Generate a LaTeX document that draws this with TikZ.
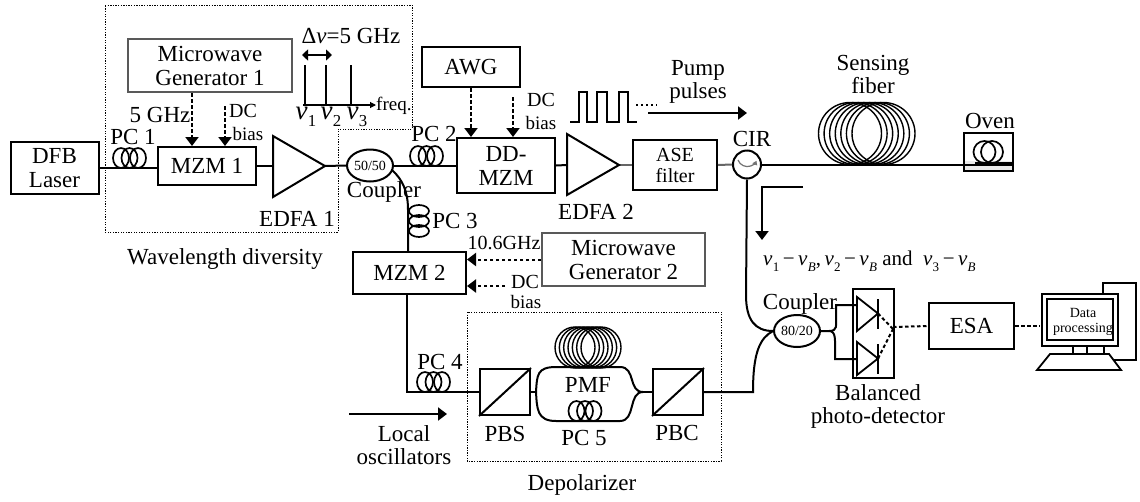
\documentclass[tikz,border=0pt]{standalone}
\usepackage{fontspec}
\setmainfont{Liberation Serif}
\usetikzlibrary{arrows.meta,shapes.geometric}
\newcommand{\vb}[1]{\textit{v}\kern.3pt\raisebox{-.28em}{\scalebox{.62}{#1}}}
\newcommand{\myfs}[2]{\fontsize{#1}{#2}\selectfont}
\newcommand{\pchoriz}[2]{% three upright loops, centre x, centre y
  \foreach \d in {-8.5,0,8.5}{\draw[coil] (#1+\d,#2) ellipse [x radius=8,y radius=10];}}
\newcommand{\pcvert}[2]{%
  \foreach \d in {-10,0,10}{\draw[coil] (#1,#2+\d) ellipse [x radius=10,y radius=6];}}
\newcommand{\spool}[5]{% left centre, right centre, y, rx, ry
  \foreach \i in {0,...,6}{\draw[spoolline] ({#1+(#2-#1)*\i/6},#3) ellipse [x radius=#4,y radius=#5];}}
\tikzset{
  wire/.style={line width=2pt},
  coil/.style={line width=1.7pt},
  spoolline/.style={line width=1.4pt},
  box/.style={draw,line width=2pt,fill=white,inner sep=0pt,align=center,font=\myfs{23}{24}},
  gbox/.style={box,draw=black!65},
  lab/.style={inner sep=0pt,align=center,font=\myfs{23}{23}},
  smalllab/.style={inner sep=0pt,align=center,font=\myfs{19}{21}},
  cplr/.style={draw,ellipse,line width=2pt,fill=white,inner sep=0pt,font=\myfs{14}{15},minimum width=46pt,minimum height=32pt},
  dashar/.style={line width=2pt,dash pattern=on 3.5pt off 2.5pt,-{Triangle[width=13pt,length=9pt]}},
  dashln/.style={line width=2pt,dash pattern=on 3.5pt off 2.5pt},
  solidar/.style={line width=2pt,-{Triangle[width=13pt,length=9pt]}},
  dotbox/.style={line width=.9pt,dash pattern=on 1.3pt off 1.3pt},
  amp/.style={line width=2pt,fill=white,line join=miter}
}
\begin{document}
\begin{tikzpicture}[x=1pt,y=-1pt]
\useasboundingbox (0,0) rectangle (1140,501);
% dotted regions
\draw[dotbox] (105,5) -- (412,5) -- (412,129) -- (338,129) -- (338,232) -- (105,232) -- cycle;
\draw[dotbox] (467,312) rectangle (721,461);
% boxes
\node[box,minimum width=88pt,minimum height=52pt] (dfb) at (54.5,168) {DFB\\Laser};
\node[box,minimum width=98pt,minimum height=38pt] (mzmA) at (207,166) {MZM 1};
\node[gbox,minimum width=164pt,minimum height=53pt] (mwA) at (210,65.5) {Microwave\\Generator 1};
\node[cplr] (cplA) at (370,165.5) {50/50};
\node[box,minimum width=98pt,minimum height=40pt] (awg) at (471,67) {AWG};
\node[box,minimum width=98pt,minimum height=55pt] (dd) at (506,165.5) {DD-\\MZM};
\node[box,minimum width=84pt,minimum height=50pt,font=\myfs{20}{21}] (ase) at (675,165) {ASE\\filter};
\node[draw,circle,line width=2pt,fill=white,minimum size=28pt,inner sep=0pt] (cir) at (747,164.5) {};
\node[box,minimum width=49pt,minimum height=38pt,path picture={\fill[black!8] (path picture bounding box.south west) rectangle ++(49,-10);}] (oven) at (988.5,152) {};
\node[gbox,minimum width=163pt,minimum height=53pt] (mwB) at (623.5,259.5) {Microwave\\Generator 2};
\node[box,minimum width=113pt,minimum height=42pt] (mzmB) at (409.5,273) {MZM 2};
\node[box,minimum width=50pt,minimum height=46pt] (pbs) at (505,392) {};
\node[box,minimum width=50pt,minimum height=46pt] (pbc) at (678,392) {};
\node[cplr] (cplB) at (797,331) {80/20};
\node[box,minimum width=41pt,minimum height=89pt] (bpd) at (873.5,333.5) {};
\node[box,minimum width=85pt,minimum height=46pt] (esa) at (971.5,326) {ESA};
% amplifiers
\coordinate (ampAin) at (273,166); \coordinate (ampAout) at (325,166);
\coordinate (ampBin) at (567,165); \coordinate (ampBout) at (619,165);
% free ends and bends
\coordinate (dcA) at (225,106);
\coordinate (dcAwg) at (513,97);
\coordinate (dcB) at (505,286);
\coordinate (lA) at (349,414); \coordinate (lB) at (447,414);
\coordinate (pA) at (648,113); \coordinate (pB) at (747,113);
\coordinate (rA) at (803,187); \coordinate (rB) at (762,187); \coordinate (rC) at (762,240);
\coordinate (splitL) at (536,392); \coordinate (splitR) at (643,392);
\coordinate (pcB) at (407,392);
% wires
\draw[wire] (dfb.east) -- (dfb.east -| mzmA.west);
\draw[wire] (mzmA.east) -- (ampAin);
\draw[wire] (ampAout) -- (cplA.west);
\draw[wire] (cplA.east) -- (dd.west);
\draw[wire] (dd.east) -- (ampBin);
\draw[wire,black!60] (ampBout) -- (ase.west);
\draw[wire,black!60] (ase.east) -- (cir.west);
\draw[wire] (cir.east) -- (oven.east |- cir.east);
\draw[wire] (392,170) .. controls (403,180) and (408,192) .. (408,210) -- (408,252);
\draw[wire] (cir.south) -- (746,295) .. controls (746,320) and (755,331) .. (cplB.west);
\draw[wire] (cplB.west) .. controls (760,338) and (753,352) .. (753,392) -- (pbc.east);
\draw[wire] (407,294) -- (pcB) -- (pbs.west);
\draw[wire] (pbs.east) -- (splitL);
\draw[wire] (splitL) .. controls (537,375) and (537,367) .. (556,367) -- (620,367) .. controls (636,367) and (628,392) .. (splitR);
\draw[wire] (splitL) .. controls (537,409) and (537,421) .. (556,421) -- (620,421) .. controls (636,421) and (628,392) .. (splitR);
\draw[wire] (splitR) -- (pbc.west);
% amps drawn over wires
\draw[amp] (273,136) -- (273,197) -- (ampAout) -- cycle;
\draw[amp] (567,134) -- (567,195) -- (ampBout) -- cycle;
% cube diagonals
\draw[wire] (pbs.south west) -- (pbs.north east);
\draw[wire] (pbc.south west) -- (pbc.north east);
% polarisation controllers
\pchoriz{129.5}{158}
\pchoriz{426.5}{156}
\pcvert{419}{221}
\pchoriz{433.5}{382}
\pchoriz{585}{411}
% spools
\spool{850}{883.5}{133.5}{31.5}{31}
\spool{575}{601}{347.5}{20}{20.5}
\draw[line width=1.7pt] (984.5,152) circle (11);
\draw[line width=1.7pt] (992,152) circle (11);
\draw[line width=2pt] (975,163) -- (1012,163);
% circulator mark
\draw[black!55,line width=1.2pt,-{Triangle[width=5pt,length=4pt]}] (738,160) arc (160:25:10);
% dashed drives
\draw[dashar] (mwA.south -| 192,0) -- (mzmA.north -| 192,0);
\draw[dashar] (dcA) -- (mzmA.north -| dcA);
\draw[dashar] (awg.south -| 471,0) -- (dd.north -| 471,0);
\draw[dashar] (dcAwg) -- (dd.north -| dcAwg);
\draw[dashar] (mwB.west) -- (mzmB.east |- mwB.west);
\draw[dashar] (dcB) -- (mzmB.east |- dcB);
% signal arrows
\draw[solidar] (pA) -- (pB);
\draw[solidar] (rA) -- (rB) -- (rC);
\draw[solidar] (lA) -- (lB);
% pulses
\draw[line width=1.8pt] (570,122) -- (579,122) -- (579,92) -- (587,92) -- (587,122) -- (597,122) -- (597,92) -- (607,92) -- (607,122) -- (619,122) -- (619,92) -- (628,92) -- (628,122) -- (637,122);
\draw[line width=2pt,dash pattern=on 2pt off 3pt] (636,105) -- (657,105);
% spectrum
\draw[line width=2pt] (305,65) -- (305,105);
\draw[line width=2pt] (326,65) -- (326,105);
\draw[line width=2pt] (351,65) -- (351,105);
\draw[line width=1.1pt,-{Triangle[width=6pt,length=6pt]}] (303,105) -- (376,105);
\draw[line width=1.4pt,{Triangle[width=11pt,length=6pt]}-{Triangle[width=11pt,length=6pt]}] (302,55) -- (332,55);
% photodiodes
\draw[line width=1.8pt] (857,297) -- (857,331) -- (878,313.5) -- cycle;
\draw[line width=1.8pt] (857,342) -- (857,375) -- (878,358.5) -- cycle;
\draw[line width=1.8pt] (878,299) -- (878,329);
\draw[line width=1.8pt] (878,344) -- (878,374);
\draw[wire] (cplB.east) -- (829,331) .. controls (838,331) and (836,325) .. (836,318) -- (836,305) -- (857,305);
\draw[wire] (829,331) .. controls (836,331) and (835,340) .. (835,349) -- (835,359) -- (857,359);
\draw[dashln] (878,313.5) -- (893,329);
\draw[dashln] (878,358.5) -- (893,329);
\draw[dashln] (893,327) -- (esa.west);
\draw[dashln] (esa.east) -- (1040,326);
% computer
\draw[line width=1.8pt] (1103,360) -- (1136,360) -- (1136,283) -- (1103,283) -- (1103,294);
\draw[line width=1.8pt,fill=white] (1073,346) rectangle (1104,354);
\draw[line width=1.8pt] (1087,346) -- (1087,354);
\draw[line width=1.8pt,fill=white] (1050,354) -- (1109,354) -- (1121,370) -- (1037,370) -- cycle;
\draw[line width=2pt,fill=white] (1042,294) rectangle (1118,346);
\draw[line width=2pt] (1047,299) rectangle (1113,340);
% labels
\node[lab] (tPCa) at (133,137) {PC 1};
\node[lab] (t5g) at (160,115) {5 GHz};
\node[smalllab,font=\myfs{20}{21}] (tdcA) at (243,111) {DC};
\node[smalllab] (tbiasA) at (248,134) {bias};
\node[lab] (tedfaA) at (297,219) {EDFA 1};
\node[lab] (tcplA) at (384,192) {Coupler};
\node[lab] (twd) at (225,259) {Wavelength diversity};
\node[lab] (tdelta) at (351,36) {Δ\textit{v}=5 GHz};
\node[lab,anchor=west,font=\myfs{19}{19}] (tfreq) at (376,106) {freq.};
\node[lab,font=\myfs{27}{27}] (tvA) at (306,117) {\vb{1}};
\node[lab,font=\myfs{27}{27}] (tvB) at (331,117) {\vb{2}};
\node[lab,font=\myfs{27}{27}] (tvC) at (357,117) {\vb{3}};
\node[lab] (tPCb) at (434,134) {PC 2};
\node[smalllab,font=\myfs{20}{21}] (tdcB) at (541,100) {DC};
\node[smalllab] (tbiasB) at (541,123) {bias};
\node[lab] (tpump) at (698,82) {Pump\\pulses};
\node[lab] (tedfaB) at (596,212) {EDFA 2};
\node[lab] (tcir) at (752,139) {CIR};
\node[lab] (tsense) at (873,74) {Sensing\\fiber};
\node[lab] (toven) at (990,121) {Oven};
\node[lab] (tPCc) at (455,221) {PC 3};
\node[lab,font=\myfs{20}{20}] (tlo) at (504,243) {10.6GHz};
\node[smalllab,font=\myfs{20}{21}] (tdcC) at (525,282) {DC};
\node[smalllab] (tbiasC) at (526,302) {bias};
\node[lab,anchor=west,font=\myfs{21}{21}] (tbeat) at (763,261) {\vb{1}\,−\,\vb{\textit{B}},\,\vb{2}\,−\,\vb{\textit{B}} and\ \ \vb{3}\,−\,\vb{\textit{B}}};
\node[lab] (tPCd) at (440,362) {PC 4};
\node[lab] (tlocal) at (404,445) {Local\\oscillators};
\node[lab] (tpmf) at (588,385) {PMF};
\node[lab] (tPCe) at (584,438) {PC 5};
\node[lab] (tpbs) at (505,434) {PBS};
\node[lab] (tpbc) at (677,433) {PBC};
\node[lab] (tdepol) at (582,485) {Depolarizer};
\node[lab] (tcplB) at (800,304) {Coupler};
\node[lab] (tbpd) at (878,406) {Balanced\\photo-detector};
\node[lab,font=\myfs{14}{15}] (tdata) at (1083,322) {Data\\processing};
\end{tikzpicture}
\end{document}
